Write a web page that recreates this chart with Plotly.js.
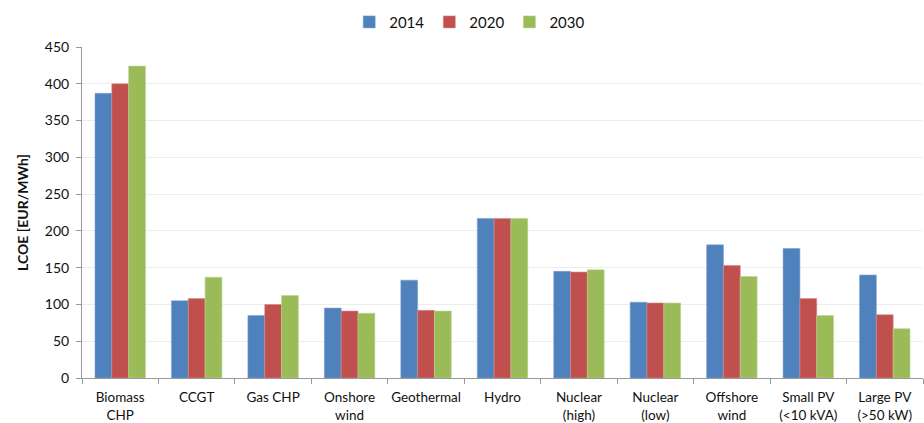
<!DOCTYPE html>
<html>
<head>
<meta charset="utf-8">
<script src="https://cdn.plot.ly/plotly-3.0.1.min.js"></script>
<style>html,body{margin:0;padding:0;background:#fff;}#chart{width:924px;height:423px;}</style>
</head>
<body>
<div id="chart"></div>
<script>
const categories = ["Biomass<br>CHP", "CCGT", "Gas CHP", "Onshore<br>wind", "Geothermal", "Hydro", "Nuclear<br>(high)", "Nuclear<br>(low)", "Offshore<br>wind", "Small PV<br>(<10 kVA)", "Large PV<br>(>50 kW)"];
const seriesNames = ["2014", "2020", "2030"];
const values2014 = [387, 105, 85, 95, 133, 217, 145, 103, 181, 176, 140];
const values2020 = [400, 108, 100, 91, 92, 217, 144, 102, 153, 108, 86];
const values2030 = [424, 137, 112, 88, 91, 217, 147, 102, 138, 85, 67];
const colors = ["#4F81BD", "#C0504D", "#9BBB59"];
const lineColors = ["#7FA3D1", "#D68A88", "#BCD38F"];

const allValues = [values2014, values2020, values2030];
const traces = allValues.map((vals, i) => ({
  type: "bar",
  name: seriesNames[i],
  x: categories,
  y: vals,
  marker: {color: colors[i], line: {color: lineColors[i], width: 0.6}}
}));

const fontFam = "Lato, 'Liberation Sans', sans-serif";
const layout = {
  width: 924, height: 423,
  margin: {l: 82, r: 1, t: 47, b: 45},
  paper_bgcolor: "#fff", plot_bgcolor: "#fff",
  font: {family: fontFam, size: 14, color: "#111"},
  barmode: "group",
  bargap: 0.34, bargroupgap: 0,
  showlegend: true,
  legend: {orientation: "h", x: 0.461, xanchor: "center", y: 1.125, yanchor: "top",
           font: {size: 15, family: fontFam}, itemwidth: 30, traceorder: "normal"},
  xaxis: {
    type: "category", automargin: false, tickangle: 0,
    tickson: "boundaries", ticks: "outside", ticklen: 5, tickcolor: "#999",
    showline: true, linecolor: "#999", linewidth: 1,
    showgrid: false, tickfont: {size: 13.5, family: fontFam},
    ticklabelstandoff: 7,
    fixedrange: true
  },
  yaxis: {
    range: [0, 450], dtick: 50, automargin: false,
    ticks: "outside", ticklen: 5, tickcolor: "#999",
    showline: true, linecolor: "#999", linewidth: 1,
    gridcolor: "#EDEDED", zeroline: false,
    ticklabelstandoff: 4,
    tickfont: {size: 14, family: fontFam},
    title: {text: "<b>LCOE [EUR/MWh]</b>", font: {size: 14, family: fontFam}, standoff: 12},
    fixedrange: true
  }
};
Plotly.newPlot("chart", traces, layout, {staticPlot: true, displayModeBar: false});
</script>
</body>
</html>
